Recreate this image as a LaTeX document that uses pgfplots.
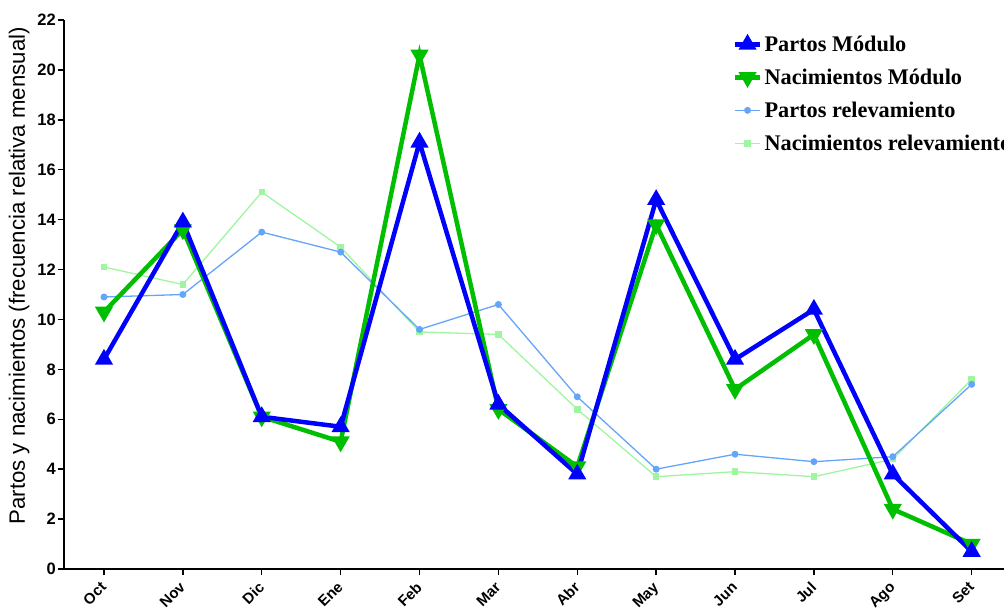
\documentclass[border=0pt]{standalone}
\usepackage{pgfplots}
\pgfplotsset{compat=1.18}
\usepackage{fontspec}
\setmainfont{Liberation Serif}
\newfontfamily\arial{Liberation Sans}
\definecolor{cblue}{RGB}{0,0,255}
\definecolor{cgreen}{RGB}{0,190,0}
\definecolor{lblue}{RGB}{100,165,250}
\definecolor{lgreen}{RGB}{160,245,160}
\begin{document}
\begin{tikzpicture}
\begin{axis}[
  scale only axis, width=940bp, height=549bp,
  xmin=-0.507, xmax=11.41, ymin=0, ymax=22,
  axis x line*=bottom, axis y line*=left,
  axis line style={line width=1.6bp, -},
  xtick={0,...,11},
  xticklabels={Oct,Nov,Dic,Ene,Feb,Mar,Abr,May,Jun,Jul,Ago,Set},
  xticklabel style={font=\fontsize{15bp}{17bp}\arial\bfseries, rotate=45, anchor=north east, inner sep=1bp, yshift=0bp, xshift=-6bp},
  ytick={0,2,...,22},
  yticklabel style={font=\fontsize{16.5bp}{18bp}\arial\bfseries, inner sep=2bp},
  /pgf/number format/assume math mode=true,
  tick align=outside, tick style={line width=1.4bp, black}, major tick length=6bp,
  ylabel={Partos y nacimientos (frecuencia relativa mensual)},
  ylabel style={font=\fontsize{22.2bp}{24bp}\arial, at={(axis description cs:0,0.534)}, anchor=south, yshift=31bp},
  legend style={draw=none, fill=none, at={(0.711,0.975)}, anchor=north west,
    font=\fontsize{22.3bp}{25bp}\bfseries, row sep=12bp, inner sep=0pt},
  legend cell align=left,
  legend image code/.code={\draw[mark repeat=2,mark phase=2] plot coordinates {(0cm,0cm)(0.45cm,0cm)(0.9cm,0cm)};},
  clip=false,
]
\addlegendimage{cblue, line width=4.5bp, mark=triangle*, mark size=6bp, mark options={solid}}
\addlegendentry{Partos Módulo}
\addlegendimage{cgreen, line width=4.5bp, mark=triangle*, mark size=6bp, mark options={solid, rotate=180}}
\addlegendentry{Nacimientos Módulo}
\addlegendimage{lblue, line width=1.3bp, mark=*, mark size=2.8bp}
\addlegendentry{Partos relevamiento}
\addlegendimage{lgreen, line width=1.3bp, mark=square*, mark size=2.6bp}
\addlegendentry{Nacimientos relevamiento}

\addplot[forget plot, lgreen, line width=1.3bp, mark=square*, mark size=2.6bp] coordinates {
(0,12.1)(1,11.4)(2,15.1)(3,12.9)(4,9.5)(5,9.4)(6,6.4)(7,3.7)(8,3.9)(9,3.7)(10,4.4)(11,7.6)};
\addplot[forget plot, lblue, line width=1.3bp, mark=*, mark size=2.8bp] coordinates {
(0,10.9)(1,11.0)(2,13.5)(3,12.7)(4,9.6)(5,10.6)(6,6.9)(7,4.0)(8,4.6)(9,4.3)(10,4.5)(11,7.4)};
\addplot[forget plot, cgreen, line width=4.5bp, mark=triangle*, mark size=6bp, mark options={rotate=180}] coordinates {
(0,10.3)(1,13.6)(2,6.1)(3,5.1)(4,20.6)(5,6.4)(6,4.1)(7,13.8)(8,7.2)(9,9.4)(10,2.4)(11,1.0)};
\addplot[forget plot, cblue, line width=4.5bp, mark=triangle*, mark size=6bp] coordinates {
(0,8.4)(1,13.9)(2,6.1)(3,5.7)(4,17.1)(5,6.6)(6,3.8)(7,14.8)(8,8.4)(9,10.4)(10,3.8)(11,0.7)};
\end{axis}
\pgfresetboundingbox
\path (-64bp,-41bp) rectangle (940bp,569bp);
\end{tikzpicture}
\end{document}
